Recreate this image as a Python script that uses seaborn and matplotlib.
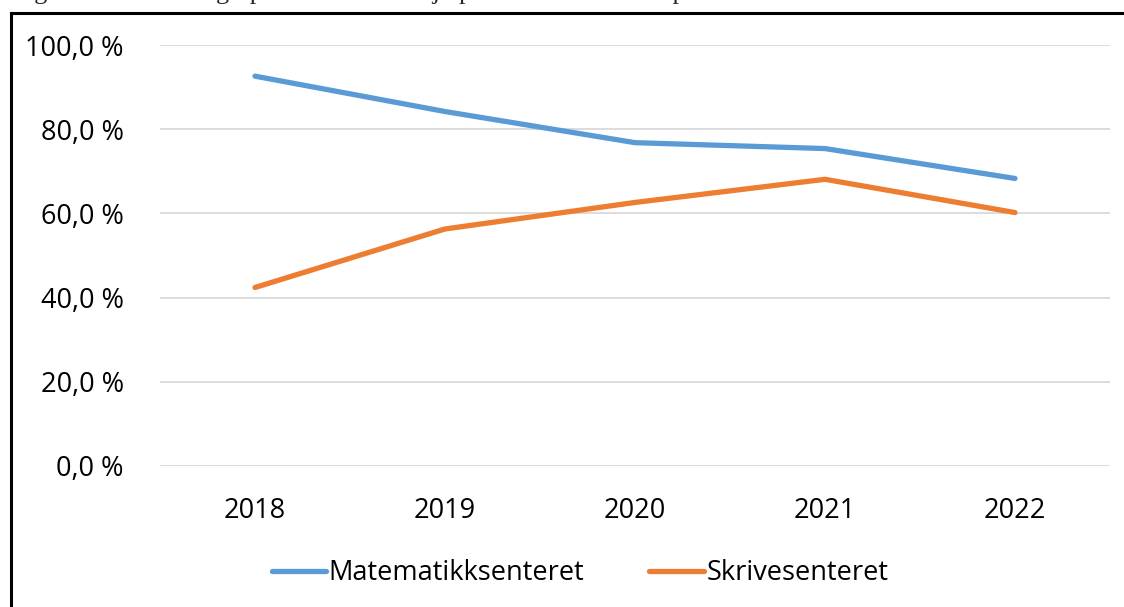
import pandas as pd
import matplotlib.pyplot as plt
import seaborn as sns
from matplotlib.patches import Rectangle
from matplotlib.ticker import FuncFormatter

# Data
years = ["2018", "2019", "2020", "2021", "2022"]
matematikk = [92.6, 84.2, 76.8, 75.4, 68.3]
skrive = [42.4, 56.3, 62.6, 68.1, 60.2]
series_names = ["Matematikksenteret", "Skrivesenteret"]
colors = ["#5B9BD5", "#ED7D31"]

df = pd.DataFrame({
    "År": years * 2,
    "Andel": matematikk + skrive,
    "Senter": [series_names[0]] * len(years) + [series_names[1]] * len(years),
})

sns.set_style("white")
plt.rcParams["font.family"] = ["Open Sans", "DejaVu Sans"]

fig = plt.figure(figsize=(11.24, 6.07), dpi=100)
ax = fig.add_axes([160 / 1124, 141 / 607, 950 / 1124, 421 / 607])

sns.lineplot(data=df, x="År", y="Andel", hue="Senter", palette=colors,
             linewidth=3.8, solid_capstyle="round", sort=False, ax=ax)

ax.set_ylim(0, 100)
ax.set_xlim(-0.5, len(years) - 0.5)
ax.set_yticks(range(0, 101, 20))
ax.yaxis.set_major_formatter(FuncFormatter(lambda v, p: f"{v:.1f} %".replace(".", ",")))
ax.yaxis.grid(True, color="#D9D9D9", linewidth=1.3)
ax.set_axisbelow(True)
for s in ax.spines.values():
    s.set_visible(False)
ax.tick_params(axis="both", length=0, labelsize=19.5, colors="black")
ax.tick_params(axis="y", pad=26)
ax.tick_params(axis="x", pad=22)
ax.set_xlabel("")
ax.set_ylabel("")

handles, labels = ax.get_legend_handles_labels()
leg = ax.legend(handles, labels, loc="center", bbox_to_anchor=(580 / 1124, 34 / 607),
                bbox_transform=fig.transFigure, ncol=2, frameon=False, fontsize=19.5,
                handlelength=2.0, handletextpad=0.1, columnspacing=2.4)
for t in leg.get_texts():
    t.set_color("black")

# outer chart border (cut off at the right and bottom)
fig.patches.append(Rectangle((11 / 1124, -0.05), 1.2, (607 - 12.5) / 607 + 0.05,
                             transform=fig.transFigure, fill=False,
                             edgecolor="black", linewidth=2.2))

# caption above the chart, mostly cropped away as in the source
fig.text(12 / 1124, 1.0 + 1 / 607, "Figur 5.1: Vurdering i prosent om den hjelpen studentene fikk per år",
         family=["Liberation Serif", "DejaVu Serif"], fontsize=19, ha="left", va="baseline")

fig.savefig("out.png", dpi=100)
